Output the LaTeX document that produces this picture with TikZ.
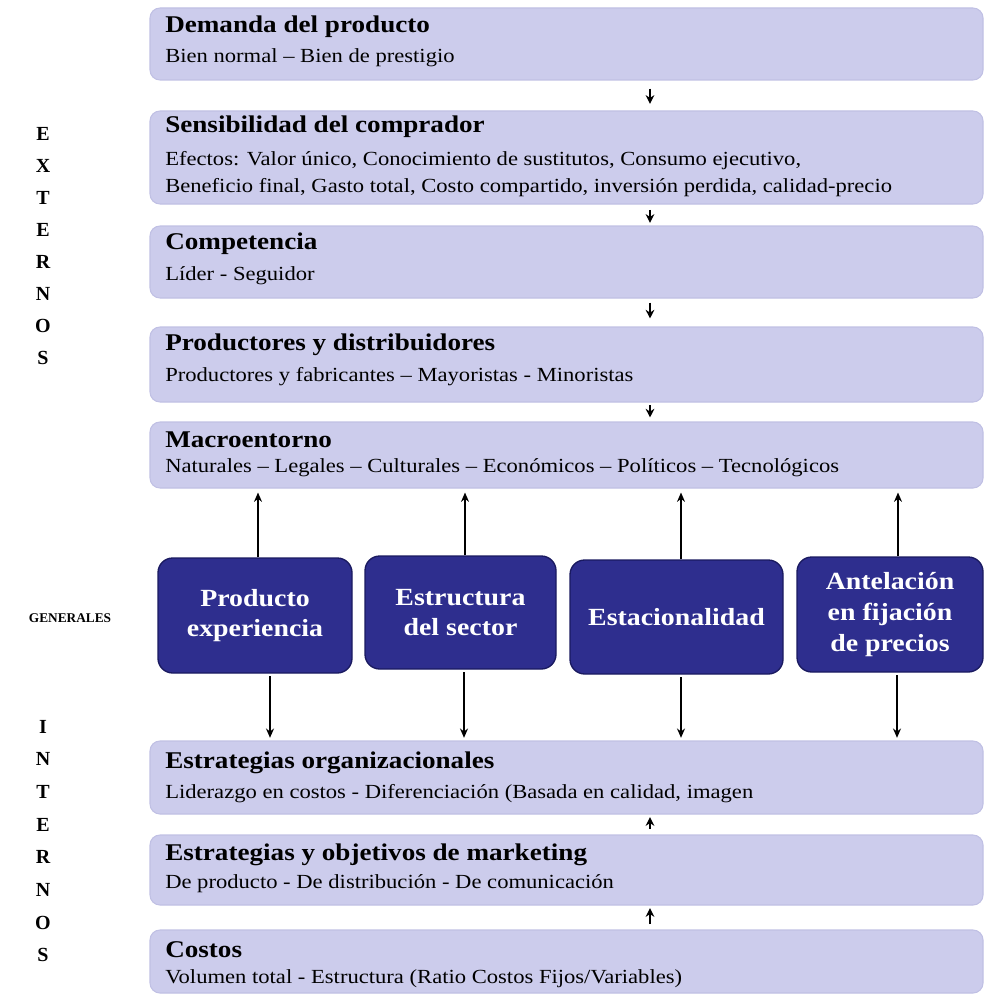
\documentclass[tikz,border=0pt]{standalone}
\usepackage{fontspec}
\setmainfont{Liberation Serif}
\newfontfamily\widefont{Liberation Serif}[FakeStretch=1.13,Ligatures=TeX]
\usetikzlibrary{fit,arrows.meta}
\definecolor{lav}{RGB}{204,204,236}
\definecolor{lavedge}{RGB}{192,192,228}
\definecolor{navy}{RGB}{46,46,142}
\definecolor{navyedge}{RGB}{26,26,96}
\begin{document}
\begin{tikzpicture}[x=0.75pt,y=-0.75pt,
 lbox/.style={fill=lav, draw=lavedge, line width=0.8pt, rounded corners=7.5pt, inner sep=0pt},
 bbox/.style={fill=navy, draw=navyedge, line width=1pt, rounded corners=11pt, inner sep=0pt},
 ttl/.style={anchor=west, inner sep=0pt, font=\widefont\fontsize{18}{21}\selectfont\bfseries},
 bod/.style={anchor=west, inner sep=0pt, align=left, font=\widefont\fontsize{15}{19.5}\selectfont},
 btxt/.style={text=white, align=center, inner sep=0pt, font=\widefont\fontsize{18.5}{23}\selectfont\bfseries},
 arr/.style={-{Stealth[length=7pt,width=6pt]}, line width=1pt},
 sarr/.style={-{Stealth[length=6.5pt,width=6.5pt]}, line width=1.4pt},
 side/.style={align=center, inner sep=0pt, font=\fontsize{15}{24}\selectfont\bfseries}]
\useasboundingbox (0,0) rectangle (985,995);

% light boxes
\node[lbox, fit={(150,8) (983,80)}] (b1) {};
\node[lbox, fit={(150,111) (983,204)}] (b2) {};
\node[lbox, fit={(150,226) (983,298)}] (b3) {};
\node[lbox, fit={(150,327) (983,402)}] (b4) {};
\node[lbox, fit={(150,422) (983,488)}] (b5) {};
\node[lbox, fit={(150,741) (983,814)}] (b6) {};
\node[lbox, fit={(150,835) (983,905)}] (b7) {};
\node[lbox, fit={(150,930) (983,993)}] (b8) {};

\node[ttl] (t1) at (165,27) {Demanda del producto};
\node[bod] (d1) at (165,58) {Bien normal – Bien de prestigio};
\node[ttl] (t2) at (165,127) {Sensibilidad del comprador};
\node[bod] (d2) at (165,174) {Efectos: Valor único, Conocimiento de sustitutos, Consumo ejecutivo,\\[1pt]Beneficio final, Gasto total, Costo compartido, inversión perdida, calidad-precio};
\node[ttl] (t3) at (165,244) {Competencia};
\node[bod] (d3) at (165,276) {Líder - Seguidor};
\node[ttl] (t4) at (165,345) {Productores y distribuidores};
\node[bod] (d4) at (165,377) {Productores y fabricantes – Mayoristas - Minoristas};
\node[ttl] (t5) at (165,440) {Macroentorno};
\node[bod] (d5) at (165,468) {Naturales – Legales – Culturales – Económicos – Políticos – Tecnológicos};
\node[ttl] (t6) at (165,763) {Estrategias organizacionales};
\node[bod] (d6) at (165,794) {Liderazgo en costos - Diferenciación (Basada en calidad, imagen};
\node[ttl] (t7) at (165,855) {Estrategias y objetivos de marketing};
\node[bod] (d7) at (165,884) {De producto - De distribución - De comunicación};
\node[ttl] (t8) at (165,950) {Costos};
\node[bod] (d8) at (165,979) {Volumen total - Estructura (Ratio Costos Fijos/Variables)};

% blue boxes
\node[bbox, fit={(158,558) (352,673)}] (B1) {};
\node[bbox, fit={(365,556) (556,669)}] (B2) {};
\node[bbox, fit={(570,560) (783,674)}] (B3) {};
\node[bbox, fit={(797,557) (983,672)}] (B4) {};
\node[btxt] (B1t) at (B1.center) {Producto\\experiencia};
\node[btxt] (B2t) at (B2.center) {Estructura\\del sector};
\node[btxt] (B3t) at (B3.center) {Estacionalidad};
\node[btxt] (B4t) at (B4.center) {Antelación\\en fijación\\de precios};

% side labels
\node[side] (ext) at (43,246) {E\\X\\T\\E\\R\\N\\O\\S};
\node[side, font=\fontsize{15}{24.5}\selectfont\bfseries] (int) at (43,841) {I\\N\\T\\E\\R\\N\\O\\S};
\node[side, font=\fontsize{10}{12}\selectfont\bfseries] (gen) at (70,618) {GENERALES};

% small arrows between light boxes
\coordinate (ax) at (650,0);
\draw[sarr, shorten <=6pt, shorten >=5pt] (b1.south -| ax) -- (b2.north -| ax);
\draw[sarr, shorten <=4pt, shorten >=2pt] (b2.south -| ax) -- (b3.north -| ax);
\draw[sarr, shorten <=3pt, shorten >=6pt] (b3.south -| ax) -- (b4.north -| ax);
\draw[sarr, shorten <=2pt, shorten >=3pt] (b4.south -| ax) -- (b5.north -| ax);
\draw[sarr, shorten <=4pt, shorten >=2pt] (b7.north -| ax) -- (b6.south -| ax);
\draw[sarr, shorten <=4pt, shorten >=2pt] (b8.north -| ax) -- (b7.south -| ax);

% arrows from blue boxes
\draw[arr, shorten >=3pt] (B1.north -| 258,0) -- (b5.south -| 258,0);
\draw[arr, shorten >=3pt] (B2.north -| 465,0) -- (b5.south -| 465,0);
\draw[arr, shorten >=3pt] (B3.north -| 681,0) -- (b5.south -| 681,0);
\draw[arr, shorten >=3pt] (B4.north -| 898,0) -- (b5.south -| 898,0);
\draw[arr, shorten <=2pt, shorten >=2pt] (B1.south -| 270,0) -- (b6.north -| 270,0);
\draw[arr, shorten <=2pt, shorten >=2pt] (B2.south -| 464,0) -- (b6.north -| 464,0);
\draw[arr, shorten <=2pt, shorten >=2pt] (B3.south -| 681,0) -- (b6.north -| 681,0);
\draw[arr, shorten <=2pt, shorten >=2pt] (B4.south -| 897,0) -- (b6.north -| 897,0);
\end{tikzpicture}
\end{document}
